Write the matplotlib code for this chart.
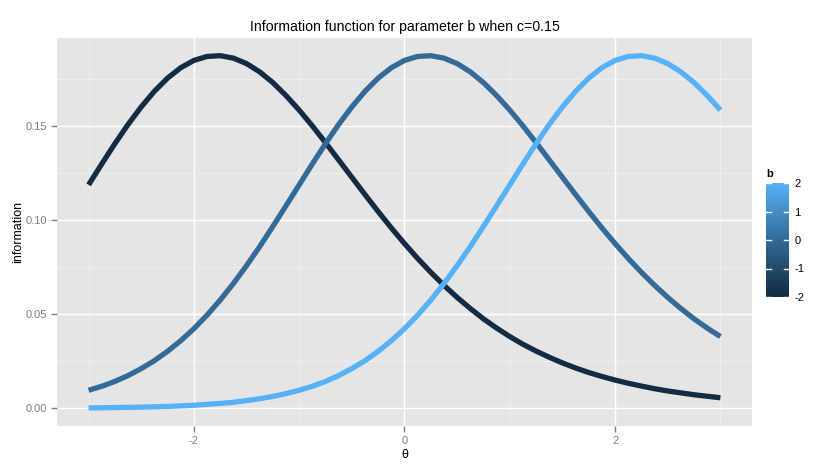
import numpy as np
import matplotlib
matplotlib.use("Agg")
import matplotlib.pyplot as plt
from matplotlib.colors import LinearSegmentedColormap, Normalize

plt.rcParams['font.family'] = ['Liberation Sans', 'DejaVu Sans']
plt.rcParams['axes.unicode_minus'] = False

theta = np.linspace(-3, 3, 49)
b_values = [-2, 0, 2]
info_b_m2 = [0.1187, 0.1298, 0.1406, 0.1508, 0.1601, 0.1684, 0.1754, 0.1809, 0.1848, 0.1869,
             0.1873, 0.1860, 0.1831, 0.1787, 0.1730, 0.1661, 0.1584, 0.1500, 0.1411, 0.1319,
             0.1227, 0.1135, 0.1045, 0.0958, 0.0875, 0.0796, 0.0722, 0.0653, 0.0589, 0.0530,
             0.0475, 0.0426, 0.0381, 0.0340, 0.0304, 0.0271, 0.0241, 0.0214, 0.0190, 0.0169,
             0.0150, 0.0133, 0.0118, 0.0104, 0.0092, 0.0082, 0.0072, 0.0064, 0.0056]
info_b_0 = [0.0096, 0.0117, 0.0143, 0.0174, 0.0211, 0.0253, 0.0303, 0.0359, 0.0423, 0.0495,
            0.0575, 0.0663, 0.0758, 0.0859, 0.0966, 0.1076, 0.1187, 0.1298, 0.1406, 0.1508,
            0.1601, 0.1684, 0.1754, 0.1809, 0.1848, 0.1869, 0.1873, 0.1860, 0.1831, 0.1787,
            0.1730, 0.1661, 0.1584, 0.1500, 0.1411, 0.1319, 0.1227, 0.1135, 0.1045, 0.0958,
            0.0875, 0.0796, 0.0722, 0.0653, 0.0589, 0.0530, 0.0475, 0.0426, 0.0381]
info_b_2 = [0.0002, 0.0003, 0.0004, 0.0005, 0.0006, 0.0008, 0.0010, 0.0013, 0.0016, 0.0021,
            0.0026, 0.0032, 0.0041, 0.0051, 0.0063, 0.0078, 0.0096, 0.0117, 0.0143, 0.0174,
            0.0211, 0.0253, 0.0303, 0.0359, 0.0423, 0.0495, 0.0575, 0.0663, 0.0758, 0.0859,
            0.0966, 0.1076, 0.1187, 0.1298, 0.1406, 0.1508, 0.1601, 0.1684, 0.1754, 0.1809,
            0.1848, 0.1869, 0.1873, 0.1860, 0.1831, 0.1787, 0.1730, 0.1661, 0.1584]
curves = [info_b_m2, info_b_0, info_b_2]

# ggplot2 default continuous gradient
cmap = LinearSegmentedColormap.from_list("gg", ["#132B43", "#336A98", "#56B1F7"])
norm = Normalize(vmin=-2, vmax=2)

fig = plt.figure(figsize=(8.4, 4.7), dpi=100)
ax = fig.add_axes([57 / 840, 44 / 470, (752 - 57) / 840, (426 - 38) / 470])
ax.set_facecolor("#E5E5E5")

for b, y in zip(b_values, curves):
    ax.plot(theta, y, color=cmap(norm(b)), lw=3.8, solid_capstyle="butt",
            solid_joinstyle="round", zorder=3)

ax.set_xlim(-3.3, 3.3)
ax.set_ylim(-0.0094, 0.1967)
ax.set_xticks([-2, 0, 2])
ax.set_yticks([0.0, 0.05, 0.10, 0.15])
ax.set_yticklabels(["0.00", "0.05", "0.10", "0.15"])
ax.set_xticks([-3, -1, 1, 3], minor=True)
ax.set_yticks([0.025, 0.075, 0.125, 0.175], minor=True)
ax.grid(which="major", color="white", lw=1.0, zorder=1)
ax.grid(which="minor", color="#F2F2F2", lw=0.5, zorder=1)
ax.set_axisbelow(True)
for s in ax.spines.values():
    s.set_visible(False)
ax.tick_params(which="major", colors="#7F7F7F", labelcolor="#7F7F7F", labelsize=8,
               length=4, width=1, pad=3)
ax.tick_params(which="minor", length=0)
ax.set_xlabel("θ", fontsize=9, labelpad=2)
ax.set_ylabel("information", fontsize=9, labelpad=1)
ax.set_title("Information function for parameter b when c=0.15", fontsize=10.2, pad=5)

# colourbar legend
cax = fig.add_axes([766 / 840, (470 - 297) / 470, 23 / 840, 114 / 470])
grad = np.linspace(-2, 2, 200).reshape(-1, 1)
cax.imshow(grad, aspect="auto", cmap=cmap, norm=norm, origin="lower",
           extent=[0, 1, -2, 2])
cax.set_xlim(0, 1)
cax.set_ylim(-2, 2)
for t in [-2, -1, 0, 1, 2]:
    cax.plot([0, 0.2], [t, t], color="white", lw=1)
    cax.plot([0.8, 1], [t, t], color="white", lw=1)
cax.set_xticks([])
cax.yaxis.tick_right()
cax.set_yticks([-2, -1, 0, 1, 2])
cax.tick_params(length=0, labelsize=8, pad=4)
for s in cax.spines.values():
    s.set_visible(False)
fig.text(766 / 840, (470 - 174) / 470, "b", fontsize=8, fontweight="bold",
         va="center", ha="left")

fig.savefig("out.png", dpi=100)
